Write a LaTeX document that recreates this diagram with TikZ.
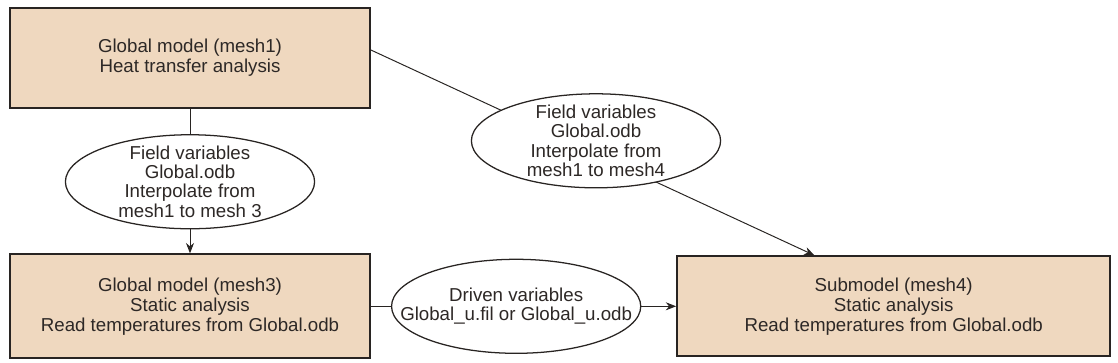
\documentclass[tikz,border=0pt]{standalone}
\usepackage{fontspec}
\setmainfont{Liberation Sans}
\usepackage{tikz}
\usetikzlibrary{arrows.meta, positioning, shapes.geometric, backgrounds}
\usepackage{xcolor}
\definecolor{smtan}{RGB}{239,216,191}
\definecolor{smline}{RGB}{40,36,34}
\definecolor{smtext}{RGB}{45,40,38}
\tikzset{
    model/.style={draw=smline, line width=1.3pt, fill=smtan, align=center, text=smtext,
                  font=\fontsize{13.3}{14.2}\selectfont, inner sep=0pt},
    transfer/.style={ellipse, draw=smline, line width=0.9pt, fill=white, align=center, text=smtext,
                  font=\fontsize{13.3}{13.6}\selectfont, inner xsep=-0.9cm, inner ysep=-0.3cm,
                  minimum width=6.23cm, minimum height=2.35cm},
    link/.style={smline, line width=0.7pt},
    arrow/.style={link, -{Stealth[length=2.6mm, width=2mm]}},
}

\begin{document}
\begin{tikzpicture}[node distance=0.6cm and 0.5cm]
    \useasboundingbox (0,0) rectangle (27.95,-9.05);
    % global model, heat transfer
    \node[model, minimum width=9cm, minimum height=2.52cm] (glob1) at (4.75,-1.45)
        {Global model (mesh1)\\Heat transfer analysis};
    \node[transfer, below=0.62cm of glob1] (field1)
        {Field variables\\Global.odb\\Interpolate from\\mesh1 to mesh 3};
    \node[model, minimum width=9cm, minimum height=2.6cm, below=0.6cm of field1] (glob3)
        {Global model (mesh3)\\Static analysis\\Read temperatures from Global.odb};
    \node[transfer, right=0.5cm of glob3] (driven)
        {Driven variables\\Global\_u.fil or Global\_u.odb};
    \node[model, minimum width=10.83cm, minimum height=2.5cm, right=0.87cm of driven] (sub4)
        {Submodel (mesh4)\\Static analysis\\Read temperatures from Global.odb};
    \node[transfer] (field4) at (14.9,-3.52)
        {Field variables\\Global.odb\\Interpolate from\\mesh1 to mesh4};
    % connectors
    \draw[link] (glob1) -- (field1);
    \draw[arrow] (field1) -- (glob3);
    \draw[link] (glob3) -- (driven);
    \draw[arrow] (driven) -- (sub4);
    \begin{scope}[on background layer]
        \draw[arrow] ([yshift=0.2cm]glob1.east) -- ([xshift=-1.98cm]sub4.north);
    \end{scope}
\end{tikzpicture}
\end{document}
